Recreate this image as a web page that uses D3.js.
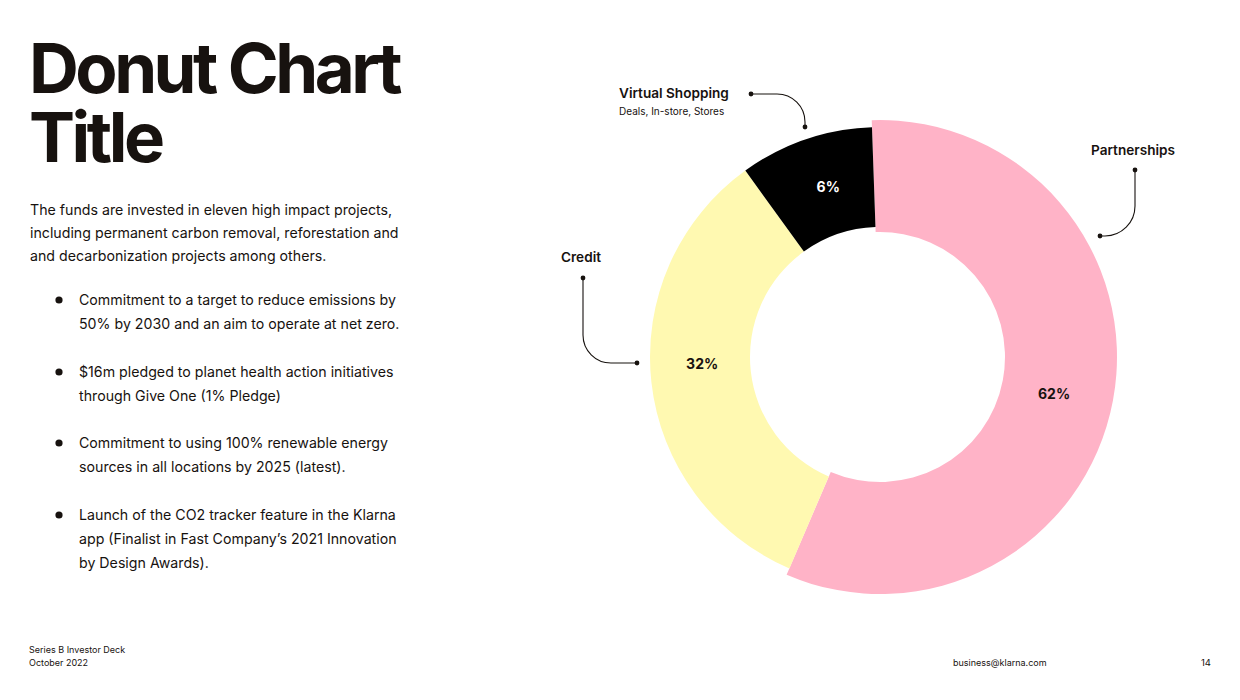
<!DOCTYPE html>
<html>
<head>
<meta charset="utf-8">
<script src="https://cdn.jsdelivr.net/npm/d3@7"></script>
<style>
  html, body { margin: 0; padding: 0; background: #ffffff; }
  svg { display: block; font-family: Inter, "Noto Sans", sans-serif; }
</style>
</head>
<body>
<svg id="chart" width="1240" height="700"></svg>
<script>
// ---- data ----
const categories = ["Partnerships", "Credit", "Virtual Shopping"];
const subtitles = ["", "", "Deals, In-store, Stores"];
const arcShares = [57, 33.6, 9.4];          // angular share as drawn in the picture
const percentLabels = ["62%", "32%", "6%"];  // printed labels
const sliceColors = ["#FFB3C7", "#FFF9B1", "#000000"];
const labelColors = ["#17120f", "#17120f", "#ffffff"];

const titleLines = ["Donut Chart", "Title"];
const introLines = [
  "The funds are invested in eleven high impact projects,",
  "including permanent carbon removal, reforestation and",
  "and decarbonization projects among others."
];
const bullets = [
  ["Commitment to a target to reduce emissions by", "50% by 2030 and an aim to operate at net zero."],
  ["$16m pledged to planet health action initiatives", "through Give One (1% Pledge)"],
  ["Commitment to using 100% renewable energy", "sources in all locations by 2025 (latest)."],
  ["Launch of the CO2 tracker feature in the Klarna", "app (Finalist in Fast Company’s 2021 Innovation", "by Design Awards)."]
];
const footerLeft = ["Series B Investor Deck", "October 2022"];
const footerEmail = "business@klarna.com";
const pageNumber = "14";

// ---- drawing ----
const svg = d3.select("#chart");
const ink = "#17120f";
svg.append("rect").attr("width", 1240).attr("height", 700).attr("fill", "#fff");

// Title
const title = svg.append("g");
titleLines.forEach((t, i) => {
  title.append("text")
    .attr("x", 29).attr("y", 93 + i * 69)
    .attr("font-size", 69).attr("font-weight", 700)
    .attr("letter-spacing", -3.5)
    .attr("fill", ink).text(t);
});

// Intro paragraph
introLines.forEach((t, i) => {
  svg.append("text")
    .attr("x", 30).attr("y", 215 + i * 22.8)
    .attr("font-size", 14.2).attr("fill", ink).text(t);
});

// Bullets
const bulletTops = [305, 377, 448, 520];
bullets.forEach((lines, bi) => {
  svg.append("circle").attr("cx", 59).attr("cy", bulletTops[bi] - 5).attr("r", 3.6).attr("fill", ink);
  lines.forEach((t, li) => {
    svg.append("text")
      .attr("x", 79).attr("y", bulletTops[bi] + li * 24)
      .attr("font-size", 14.2).attr("fill", ink).text(t);
  });
});

// Footer
footerLeft.forEach((t, i) => {
  svg.append("text").attr("x", 29).attr("y", 653 + i * 12.5)
    .attr("font-size", 9).attr("fill", ink).text(t);
});
svg.append("text").attr("x", 953).attr("y", 666).attr("font-size", 9).attr("fill", ink).text(footerEmail);
svg.append("text").attr("x", 1201).attr("y", 666).attr("font-size", 9.5).attr("fill", ink).text(pageNumber);

// Donut
const cx = 880, cy = 357;
const deg = Math.PI / 180;
const pie = d3.pie().sort(null).value(d => d.share)
  .startAngle(-2 * deg).endAngle(358 * deg);
const data = categories.map((c, i) => ({
  name: c, share: arcShares[i], label: percentLabels[i],
  color: sliceColors[i], labelColor: labelColors[i]
}));
const arcs = pie(data);
const outerR = i => (i === 0 ? 237 : 230);
const innerR = i => (i === 0 ? 125 : 130);

const g = svg.append("g").attr("transform", `translate(${cx},${cy})`);
g.selectAll("path.slice").data(arcs).join("path")
  .attr("class", "slice")
  .attr("fill", d => d.data.color)
  .attr("d", (d, i) => d3.arc().innerRadius(innerR(i)).outerRadius(outerR(i))(d));

// label angle nudges (degrees) so labels sit where the reference prints them
const labelNudge = [1.5, 4, 2];
const labelR = 178;
g.selectAll("text.pct").data(arcs).join("text")
  .attr("class", "pct")
  .attr("transform", (d, i) => {
    const a = (d.startAngle + d.endAngle) / 2 + labelNudge[i] * deg;
    return `translate(${labelR * Math.sin(a)},${-labelR * Math.cos(a)})`;
  })
  .attr("text-anchor", "middle").attr("dy", "0.35em")
  .attr("font-size", 14).attr("font-weight", 700)
  .attr("fill", d => d.data.labelColor)
  .text(d => d.data.label);

// Callouts
const callouts = [
  { i: 0, tx: 1133, ty: 155, anchor: "middle",
    path: "M1135,170 V206 A30,30 0 0 1 1105,236 H1100", dots: [[1135, 170], [1100, 236]] },
  { i: 1, tx: 561, ty: 262, anchor: "start",
    path: "M583,278 V335 A28,28 0 0 0 611,363 H637", dots: [[583, 278], [637, 363]] },
  { i: 2, tx: 619, ty: 98, anchor: "start",
    path: "M751,94 H777 A28,28 0 0 1 805,122 V127", dots: [[751, 94], [805, 127]] }
];
callouts.forEach(c => {
  svg.append("path").attr("d", c.path).attr("fill", "none")
    .attr("stroke", ink).attr("stroke-width", 1.1);
  c.dots.forEach(p => svg.append("circle").attr("cx", p[0]).attr("cy", p[1]).attr("r", 2.4).attr("fill", ink));
  svg.append("text").attr("x", c.tx).attr("y", c.ty)
    .attr("text-anchor", c.anchor)
    .attr("font-size", 13.6).attr("font-weight", 600).attr("fill", ink)
    .text(categories[c.i]);
  if (subtitles[c.i]) {
    svg.append("text").attr("x", c.tx).attr("y", c.ty + 17)
      .attr("text-anchor", c.anchor)
      .attr("font-size", 10).attr("fill", ink)
      .text(subtitles[c.i]);
  }
});
</script>
</body>
</html>
